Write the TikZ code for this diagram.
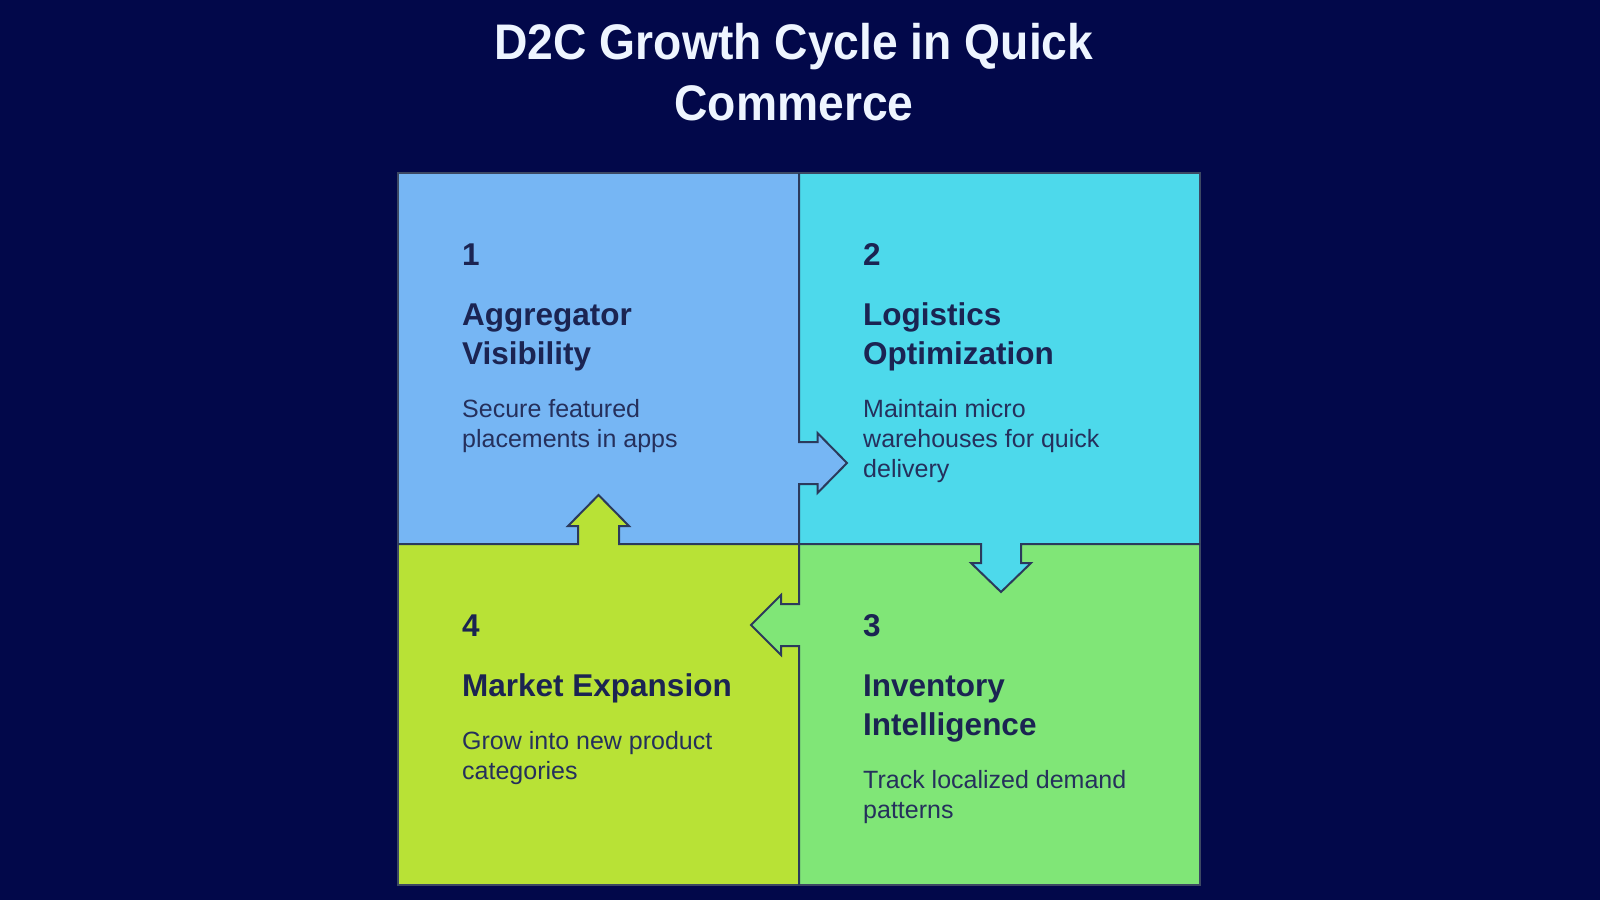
\documentclass[tikz,border=0pt]{standalone}
\usepackage{fontspec}
\setmainfont{Liberation Sans}
\newfontfamily\titlefont[FakeStretch=0.925]{Liberation Sans}
\definecolor{bgc}{HTML}{02084A}
\definecolor{qone}{HTML}{76B6F4}
\definecolor{qtwo}{HTML}{4DD9EB}
\definecolor{qthree}{HTML}{80E677}
\definecolor{qfour}{HTML}{B8E236}
\definecolor{txtc}{HTML}{1B2452}
\definecolor{bodyc}{HTML}{25305C}
\definecolor{edgec}{HTML}{2B3A5C}
\definecolor{titlec}{HTML}{EEF5FF}
\tikzset{
  edgeline/.style={draw=edgec, line width=2pt, line join=miter},
  outerline/.style={draw=edgec!80!gray, line width=1.5pt},
  numtxt/.style={anchor=base west, inner sep=0pt, text=txtc, font=\fontsize{31.5}{38}\selectfont\bfseries},
  headtxt/.style={anchor=base west, inner sep=0pt, text=txtc, font=\fontsize{31.5}{38}\selectfont\bfseries},
  bodytxt/.style={anchor=base west, inner sep=0pt, text=bodyc, font=\fontsize{25}{30}\selectfont},
  titletxt/.style={anchor=base, inner sep=0pt, text=titlec, font=\titlefont\fontsize{50}{60}\selectfont\bfseries}
}
\begin{document}
\begin{tikzpicture}[x=1pt, y=-1pt]
\useasboundingbox (0,0) rectangle (1600,900);
\fill[bgc] (0,0) rectangle (1600,900);

% quadrants
\fill[qone]   (398,173) rectangle (799,544);
\fill[qtwo]   (799,173) rectangle (1200,544);
\fill[qfour]  (398,544) rectangle (799,885);
\fill[qthree] (799,544) rectangle (1200,885);

% arrow bodies (source colour)
\fill[qone] (799,442) -- (817.5,442) -- (817.5,433) -- (847,463) -- (817.5,493) -- (817.5,484) -- (799,484) -- cycle;
\fill[qtwo] (981,544) -- (981,563) -- (971,563) -- (1001,592) -- (1031,563) -- (1021,563) -- (1021,544) -- cycle;
\fill[qthree] (799,604) -- (781,604) -- (781,595) -- (751,625) -- (781,655) -- (781,646) -- (799,646) -- cycle;
\fill[qfour] (578,544) -- (578,526) -- (568,526) -- (598.5,495) -- (629,526) -- (619,526) -- (619,544) -- cycle;

% outer border
\draw[outerline] (398,173) rectangle (1200,885);

% inner dividing lines with arrow bumps
\draw[edgeline] (799,173) -- (799,442) -- (817.5,442) -- (817.5,433) -- (847,463) -- (817.5,493) -- (817.5,484) -- (799,484) -- (799,544);
\draw[edgeline] (799,544) -- (981,544) -- (981,563) -- (971,563) -- (1001,592) -- (1031,563) -- (1021,563) -- (1021,544) -- (1200,544);
\draw[edgeline] (799,544) -- (799,604) -- (781,604) -- (781,595) -- (751,625) -- (781,655) -- (781,646) -- (799,646) -- (799,885);
\draw[edgeline] (398,544) -- (578,544) -- (578,526) -- (568,526) -- (598.5,495) -- (629,526) -- (619,526) -- (619,544) -- (799,544);

% title
\node[titletxt] (t1) at (794,59) {D2C Growth Cycle in Quick};
\node[titletxt] (t2) at (794,120) {Commerce};

% box 1
\node[numtxt] (n1) at (462,265) {1};
\node[headtxt] (h1a) at (462,325) {Aggregator};
\node[headtxt] (h1b) at (462,364) {Visibility};
\node[bodytxt] (b1a) at (462,417) {Secure featured};
\node[bodytxt] (b1b) at (462,447) {placements in apps};

% box 2
\node[numtxt] (n2) at (863,265) {2};
\node[headtxt] (h2a) at (863,325) {Logistics};
\node[headtxt] (h2b) at (863,364) {Optimization};
\node[bodytxt] (b2a) at (863,417) {Maintain micro};
\node[bodytxt] (b2b) at (863,447) {warehouses for quick};
\node[bodytxt] (b2c) at (863,477) {delivery};

% box 4
\node[numtxt] (n4) at (462,636) {4};
\node[headtxt] (h4a) at (462,696) {Market Expansion};
\node[bodytxt] (b4a) at (462,749) {Grow into new product};
\node[bodytxt] (b4b) at (462,779) {categories};

% box 3
\node[numtxt] (n3) at (863,636) {3};
\node[headtxt] (h3a) at (863,696) {Inventory};
\node[headtxt] (h3b) at (863,735) {Intelligence};
\node[bodytxt] (b3a) at (863,788) {Track localized demand};
\node[bodytxt] (b3b) at (863,818) {patterns};
\end{tikzpicture}
\end{document}
